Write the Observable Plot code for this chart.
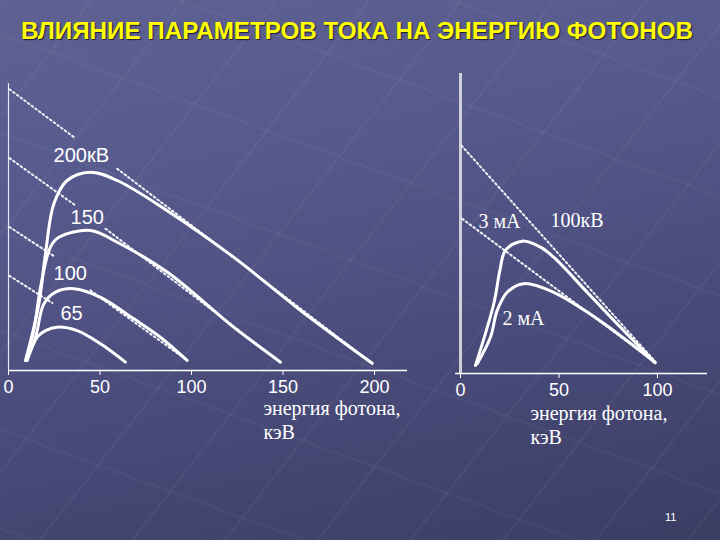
<!DOCTYPE html>
<html><head><meta charset="utf-8">
<script src="https://cdn.jsdelivr.net/npm/d3@7"></script>
<script src="https://cdn.jsdelivr.net/npm/@observablehq/plot@0.6"></script>
<style>
html,body{margin:0;padding:0;}
body{width:720px;height:540px;overflow:hidden;position:relative;
background-color:#4b4e7e;
background-image:
 repeating-linear-gradient(128deg, rgba(255,255,255,0) 0px, rgba(255,255,255,0) 70px, rgba(255,255,255,0.035) 71px, rgba(255,255,255,0.035) 73px),
 repeating-linear-gradient(200deg, rgba(255,255,255,0) 0px, rgba(255,255,255,0) 90px, rgba(255,255,255,0.03) 91px, rgba(255,255,255,0.03) 93px),
 linear-gradient(168deg, #5e6192 0%, #56598b 30%, #4a4d7c 60%, #3b3d63 100%);
font-family:"Liberation Sans", Arial, sans-serif;}
#title{position:absolute;left:0;top:17px;width:714px;text-align:center;font:bold 24.2px "Liberation Sans",Arial,sans-serif;color:#ffff00;text-shadow:1px 1px 1px #1c1d36;white-space:nowrap;}
#left{position:absolute;left:0;top:60px;}
#right{position:absolute;left:440px;top:60px;}
#page{position:absolute;left:665px;top:511px;font:11px "Liberation Sans",Arial,sans-serif;color:#fff;}
</style></head>
<body>
<div id="title">ВЛИЯНИЕ ПАРАМЕТРОВ ТОКА НА ЭНЕРГИЮ ФОТОНОВ</div>
<div id="left"></div>
<div id="right"></div>
<div id="page">11</div>
<script>
// ---------- Left panel: different tube voltages ----------
const leftSeries = ["200кВ", "150", "100", "65"];
const energy200 = [9.3, 16.6, 20.2, 24.8, 32, 44.8, 59.4, 86.7, 123, 159.6, 198.7];
const photons200 = [3.5, 23.2, 40.7, 58.1, 66.2, 69.1, 66.2, 55.7, 39.5, 20.9, 2.5];
const energy150 = [9.6, 13.8, 17.5, 22.9, 27.5, 44.8, 59.4, 86.7, 123, 148.6];
const photons150 = [3.5, 13.9, 29, 43, 46.4, 48.8, 44.7, 34.3, 15.1, 2.9];
const energy100 = [9.8, 14.8, 19.3, 25.7, 35.7, 50.3, 68.5, 83, 97.6];
const photons100 = [3.5, 11.6, 23.2, 27.3, 28.5, 25.5, 18, 11.6, 3.5];
const energy65 = [10.2, 15.7, 20.2, 26.6, 37.5, 50.3, 63.9];
const photons65 = [3.5, 11.6, 13.9, 15.1, 13.9, 9.3, 2.9];

// dotted (unfiltered) straight spectra, visible pieces
const leftDotSeg   = ["200a", "200b", "150a", "150b", "100a", "100b", "65a"];
const leftDotX1    = [0.5, 59.4, 0.5, 53, 0.5, 44.8, 0.5];
const leftDotY1    = [98, 70.3, 74, 49.4, 50, 27.9, 33];
const leftDotX2    = [35.7, 198.7, 36.6, 148.6, 25, 97.6, 24];
const leftDotY2    = [81.3, 2.5, 57.5, 2.9, 39.8, 3.5, 23.5];

const leftLabelText = ["200кВ", "150", "100", "65"];
const leftLabelX = [24.6, 33.9, 24.6, 28.4];
const leftLabelY = [74.9, 53.4, 33.6, 19.9];
const leftTicks = [0, 50, 100, 150, 200];

// ---------- Right panel: different tube currents at 100 kV ----------
const rightSeries = ["3 мА", "2 мА"];
const energy3mA = [7.6, 16.9, 20, 22.8, 31.3, 40.6, 47.3, 64.3, 81.2, 98.8];
const photons3mA = [2.8, 24.3, 35.9, 42.9, 46.1, 44, 40.5, 28.3, 16.1, 3.8];
const energy2mA = [8.5, 15.2, 18.6, 23.7, 32, 47.3, 64.3, 81.2, 98.8];
const photons2mA = [3.4, 12.6, 21.9, 28.3, 31.3, 28.3, 21.4, 13.2, 3.8];

const rightDotSeg = ["3 мА", "2 мА"];
const rightDotX1 = [0.5, 0.9];
const rightDotY1 = [79.4, 53.9];
const rightDotX2 = [98.8, 98.8];
const rightDotY2 = [4.2, 3.8];

const rightLabelText = ["3 мА", "100кВ", "2 мА"];
const rightLabelX = [9.1, 45.7, 21.3];
const rightLabelY = [53, 53.3, 19.2];
const rightTicks = [0, 50, 100];

const axisTitle = "энергия фотона,\nкэВ";

// ---------- tables built from the arrays ----------
function curveRows(names, xsList, ysList) {
  const out = [];
  names.forEach((n, i) => xsList[i].forEach((x, j) => out.push({series: n, x, y: ysList[i][j]})));
  return out;
}
function segRows(names, x1, y1, x2, y2) {
  const out = [];
  names.forEach((n, i) => { out.push({seg: n, x: x1[i], y: y1[i]}); out.push({seg: n, x: x2[i], y: y2[i]}); });
  return out;
}
function labelRows(t, xs, ys) { return t.map((text, i) => ({text, x: xs[i], y: ys[i]})); }

const leftCurves = curveRows(leftSeries, [energy200, energy150, energy100, energy65], [photons200, photons150, photons100, photons65]);
const leftDots = segRows(leftDotSeg, leftDotX1, leftDotY1, leftDotX2, leftDotY2);
const leftLabels = labelRows(leftLabelText, leftLabelX, leftLabelY);

const rightCurves = curveRows(rightSeries, [energy3mA, energy2mA], [photons3mA, photons2mA]);
const rightDots = segRows(rightDotSeg, rightDotX1, rightDotY1, rightDotX2, rightDotY2);
const rightLabels = labelRows(rightLabelText, rightLabelX, rightLabelY);

const dotStyle = {stroke: "#f2f2fa", strokeWidth: 2, strokeDasharray: "1.8,2.8"};
const curveStyle = {stroke: "#ffffff", strokeWidth: 3, curve: "catmull-rom", strokeLinecap: "round"};

const left = Plot.plot({
  width: 420, height: 400,
  marginLeft: 8, marginRight: 13, marginTop: 23, marginBottom: 90,
  x: {domain: [0, 218], axis: null},
  y: {domain: [0, 100], axis: null},
  style: {background: "transparent", overflow: "visible"},
  marks: [
    Plot.ruleX([0], {y1: 0, y2: 100, stroke: "#e8e8f2", strokeWidth: 1.2}),
    Plot.ruleY([0], {stroke: "#ffffff", strokeWidth: 1.5}),
    Plot.axisX({ticks: leftTicks, tickSize: 5, tickPadding: 5, fontSize: 18, color: "white", label: null,
      fontFamily: "Liberation Sans", tickFormat: d => String(d)}),
    Plot.line(leftDots, {x: "x", y: "y", z: "seg", ...dotStyle}),
    Plot.line(leftCurves, {x: "x", y: "y", z: "series", ...curveStyle}),
    Plot.text(leftLabels, {x: "x", y: "y", text: "text", textAnchor: "start", fontSize: 20,
      fill: "white", fontFamily: "Liberation Sans"}),
    Plot.text([axisTitle], {x: 139.3, y: 0, text: d => d, dy: 27, lineAnchor: "top", textAnchor: "start",
      fontSize: 20, lineHeight: 1.2, fill: "white", fontFamily: "Liberation Serif"})
  ]
});
document.getElementById("left").appendChild(left);

const right = Plot.plot({
  width: 280, height: 400,
  marginLeft: 20, marginRight: 13, marginTop: 13, marginBottom: 87,
  x: {domain: [0, 125.4], axis: null},
  y: {domain: [0, 104.5], axis: null},
  style: {background: "transparent", overflow: "visible"},
  marks: [
    Plot.ruleX([0], {y1: 0, y2: 104.5, stroke: "#cfd0da", strokeWidth: 3}),
    Plot.ruleY([0], {x1: -2.5, x2: 125.4, stroke: "#ffffff", strokeWidth: 1.5}),
    Plot.axisX({ticks: rightTicks, tickSize: 5, tickPadding: 5, fontSize: 18, color: "white", label: null,
      fontFamily: "Liberation Sans", tickFormat: d => String(d)}),
    Plot.line(rightDots, {x: "x", y: "y", z: "seg", ...dotStyle}),
    Plot.line(rightCurves, {x: "x", y: "y", z: "series", ...curveStyle}),
    Plot.text(rightLabels, {x: "x", y: "y", text: "text", textAnchor: "start", fontSize: 20,
      fill: "white", fontFamily: "Liberation Serif"}),
    Plot.text([axisTitle], {x: 35.5, y: 0, text: d => d, dy: 29, lineAnchor: "top", textAnchor: "start",
      fontSize: 20, lineHeight: 1.2, fill: "white", fontFamily: "Liberation Serif"})
  ]
});
document.getElementById("right").appendChild(right);
</script>
</body></html>
